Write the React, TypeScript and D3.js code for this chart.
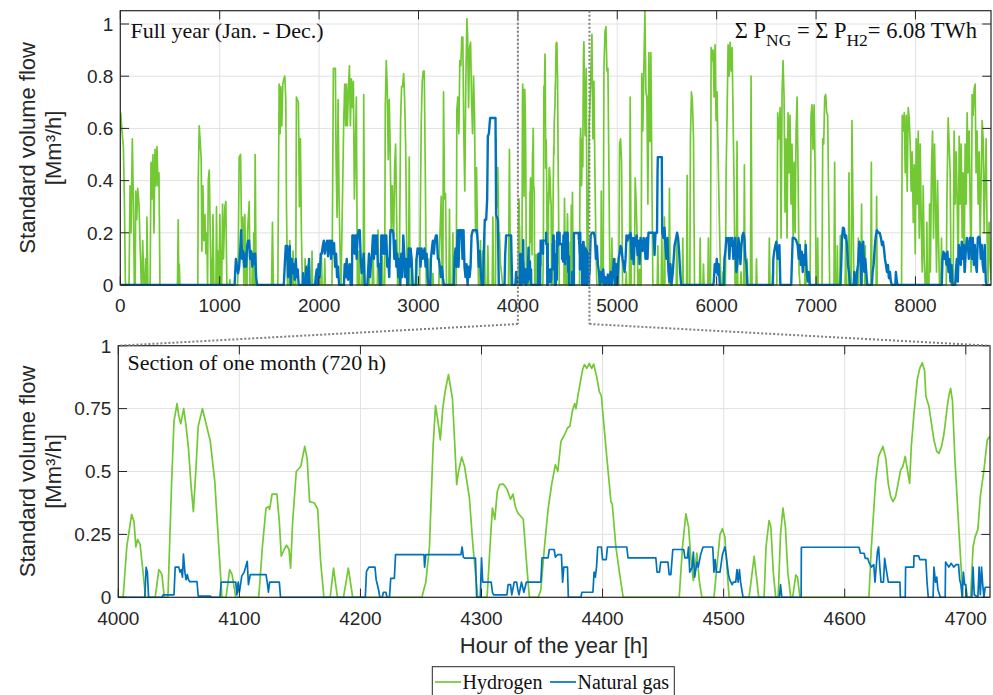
import React from "react";
import * as d3 from "d3";

type P = [number, number];

// ---------- Data (hour of year, standard volume flow in Mm³/h) ----------
const H2_YEAR_A: P[] = [
[0,0.6],[4,0.66],[17,0.59],[31,0.53],[41,0.33],[51,0.01],[60,0],
[88,0],[98,0.38],[108,0.2],[121,0.56],[131,0.33],[141,0],
[150,0],[155,0.36],[165,0.25],[175,0.37],[188,0.31],[198,0.17],[211,0],
[218,0],[225,0.17],[238,0],[250,0],[255,0.1],[262,0],[265,0],[268,0.26],[278,0],
[300,0],[309,0.47],[319,0.33],[329,0.5],[339,0.2],[349,0.52],[359,0.38],[369,0.53],[379,0.38],[389,0.43],[399,0],
[575,0],[583,0.25],[588,0],[593,0.08],[600,0],
[780,0],[784,0.4],[794,0.61],[804,0.55],[814,0.48],[821,0.13],[831,0.38],[841,0.17],[851,0.27],[861,0.12],[871,0.2],[878,0],[885,0.4],[895,0.44],[905,0.2],[912,0],[918,0.1],[925,0],[932,0.27],[942,0],
[962,0],[968,0.3],[975,0],[985,0.13],[992,0],[1002,0.27],[1010,0],[1020,0],[1029,0.31],[1038,0.1],[1052,0.3],[1062,0.32],[1072,0],
[1098,0],[1102,0.02],[1106,0],
[1180,0],[1186,0.1],[1196,0.49],[1210,0.5],[1220,0.2],[1233,0.26],[1243,0],[1253,0.27],[1262,0],[1275,0],[1280,0.2],[1297,0.32],[1305,0],[1325,0],[1330,0.12],[1337,0],[1343,0.2],[1350,0],[1357,0.5],[1367,0],
[1522,0],[1531,0.24],[1540,0],
[1585,0],[1598,0.77],[1608,0.58],[1615,0.76],[1625,0.61],[1635,0.77],[1645,0.79],[1655,0.8],[1665,0.71],[1672,0.3],[1682,0],[1700,0],[1705,0.17],[1712,0],[1733,0],[1738,0.13],[1745,0],
[1765,0],[1772,0.72],[1782,0.71],[1792,0.7],[1802,0.3],[1812,0.56],[1822,0.2],[1832,0],[1855,0],[1859,0.1],[1865,0],[1885,0],[1889,0.08],[1895,0],[1924,0],[1929,0.13],[1935,0],[1985,0],[1990,0.03],[1995,0],[2018,0],[2023,0.12],[2030,0],[2052,0],[2057,0.1],[2062,0],
[2130,0],[2144,0.83],[2154,0.83],[2164,0.83],[2171,0.48],[2181,0.26],[2191,0.71],[2201,0.33],[2211,0.13],[2221,0],[2234,0.3],[2248,0.63],[2258,0.77],[2268,0.61],[2275,0.77],[2285,0.61],[2295,0.75],[2305,0.84],[2315,0.61],[2325,0.79],[2335,0.68],[2345,0.78],[2355,0.33],[2365,0.52],[2375,0.72],[2385,0],[2396,0],[2402,0.13],[2410,0],[2430,0],[2435,0.06],[2440,0],[2444,0],[2449,0.73],[2459,0],
[2497,0],[2502,0.1],[2508,0],[2535,0],[2542,0.18],[2550,0],[2586,0],[2593,0.21],[2600,0],[2630,0],[2636,0.11],[2642,0],
[2660,0],[2666,0.68],[2676,0.86],[2686,0.75],[2696,0.48],[2706,0.71],[2716,0.5],[2726,0.2],[2736,0.38],[2750,0.18],[2760,0.45],[2770,0.54],[2780,0.26],[2790,0],[2805,0],[2810,0.17],[2820,0.63],[2830,0.76],[2840,0.76],[2851,0.81],[2861,0.71],[2871,0.53],[2881,0.17],[2891,0],[2900,0],[2907,0.49],[2914,0],[2932,0],[2937,0.06],[2942,0],[2968,0],[2974,0.1],[2980,0],
[3012,0],[3018,0.26],[3028,0.63],[3038,0.78],[3048,0.82],[3058,0.82],[3068,0.46],[3078,0],[3097,0],[3102,0.1],[3108,0],[3140,0],[3145,0.045],[3150,0],
[3205,0],[3212,0.15],[3229,0.34],[3239,0],[3245,0],[3252,0.74],[3262,0.33],[3272,0.35],[3282,0],[3306,0],[3312,0.29],[3318,0],[3340,0],[3346,0.2],[3352,0],
[3380,0],[3386,0.67],[3396,0.72],[3406,0.58],[3416,0.86],[3426,0.84],[3436,0.95],[3446,0.95],[3456,0.58],[3466,0.36],[3476,0.77],[3487,1.02],[3494,0.96],[3504,0.68],[3514,0.91],[3524,0.93],[3534,0.71],[3544,0.58],[3554,0.8],[3564,0.65],[3574,0.2],[3584,0.45],[3594,0.18],[3604,0],[3618,0],[3624,0.17],[3630,0],[3642,0],[3647,0.13],[3655,0],[3664,0.2],[3670,0],[3692,0],[3698,0.15],[3705,0],[3742,0],[3748,0.26],[3755,0],[3775,0],[3781,0.56],[3790,0.3],[3798,0.45],[3808,0.18],[3815,0.2],[3825,0.08],[3848,0],[3905,0],[3915,0.52],[3925,0]
];

const H2_MONTH: P[] = [
[4000,0],[4004,0],[4007,0.2],[4011,0.33],[4013,0.3],[4014.5,0.2],[4016,0.23],[4018,0.21],[4020,0.12],[4022.5,0],[4030.5,0],[4033.5,0.11],[4035,0.1],[4036,0.09],[4038,0],[4041,0],[4044,0.45],[4046,0.7],[4048.5,0.77],[4050,0.72],[4051.6,0.69],[4054,0.75],[4056,0.68],[4058,0.59],[4060,0.45],[4062,0.34],[4064,0.5],[4066,0.68],[4069.5,0.75],[4072,0.7],[4076,0.62],[4079.7,0.46],[4083,0.2],[4085.6,0],[4089,0],[4092,0.11],[4094,0.09],[4097,0],[4116,0],[4119,0.2],[4122,0.355],[4124,0.36],[4125,0.35],[4127,0.41],[4131,0.41],[4133,0.3],[4134.6,0.163],[4137,0.19],[4139,0.207],[4141,0.19],[4142.3,0.116],[4144,0.3],[4147,0.5],[4150.7,0.52],[4154,0.6],[4156,0.55],[4158,0.38],[4162,0.375],[4164.7,0.35],[4167,0.15],[4169.8,0],[4175,0],[4177.8,0.116],[4181,0],[4186,0],[4190,0.116],[4193.6,0],[4250.7,0],[4254,0.06],[4257,0.2],[4260,0.6],[4262,0.762],[4264,0.7],[4266,0.626],[4268,0.75],[4270,0.82],[4272.7,0.885],[4276,0.79],[4278,0.6],[4279.5,0.448],[4281,0.5],[4283.7,0.557],[4286,0.52],[4290,0.395],[4293,0.2],[4296.9,0],[4304.6,0],[4307,0.2],[4309,0.355],[4311,0.31],[4313,0.42],[4315,0.448],[4318,0.45],[4321,0.43],[4324,0.39],[4326,0.41],[4328,0.36],[4330,0.335],[4334.5,0.31],[4337,0.15],[4339.5,0],[4347,0],[4349,0.03],[4352,0.2],[4355,0.35],[4358,0.45],[4361,0.527],[4363,0.5],[4365.6,0.62],[4368,0.64],[4371,0.673],[4373,0.68],[4375.3,0.746],[4377,0.77],[4378,0.75],[4380,0.812],[4383.5,0.905],[4385,0.925],[4387,0.91],[4389,0.93],[4391,0.91],[4392.6,0.927],[4395,0.88],[4397.3,0.818],[4399,0.8],[4402.8,0.593],[4406.9,0.38],[4408,0.37],[4411,0.2],[4413.8,0.103],[4417,0],[4463.3,0],[4466,0.2],[4468.8,0.332],[4471,0.28],[4473,0.15],[4475,0.066],[4477.9,0.176],[4480,0.06],[4482,0],[4492,0],[4495,0.15],[4497,0.25],[4499,0.273],[4501,0.24],[4503,0.1],[4504.5,0],[4521,0],[4525.2,0.163],[4529,0],[4533.4,0],[4535,0.2],[4537.5,0.305],[4539,0.28],[4541,0.1],[4543,0],[4545,0],[4547,0.25],[4549,0.355],[4551,0.28],[4553,0.1],[4555.4,0],[4557,0],[4559.6,0.089],[4561,0.08],[4563,0],[4620,0],[4622,0.2],[4625.6,0.466],[4628,0.56],[4631.6,0.6],[4634,0.55],[4636,0.45],[4638,0.4],[4639.9,0.38],[4642,0.4],[4644,0.45],[4646.2,0.506],[4648,0.52],[4650,0.56],[4652,0.5],[4653.6,0.453],[4655,0.6],[4657.2,0.73],[4659.9,0.864],[4662,0.91],[4664,0.932],[4666,0.9],[4667,0.8],[4669.6,0.758],[4673.7,0.625],[4676,0.58],[4677.8,0.572],[4680,0.6],[4682,0.65],[4684.7,0.758],[4686,0.8],[4687.5,0.83],[4689,0.78],[4691,0.55],[4694.3,0.268],[4697.6,0],[4704,0],[4706,0.2],[4707.7,0.24],[4710,0.27],[4712,0.4],[4715,0.506],[4717.7,0.625],[4720,0.64]
];

const H2_YEAR_B: P[] = [
[4732,0.77],[4745,0.96],[4755,0.56],[4765,0.78],[4775,0.43],[4785,0.15],[4795,0],[4815,0],[4822,0.03],[4830,0],[4835,0],[4839,0.36],[4845,0],[4858,0],[4866,0.83],[4876,0.97],[4886,0.99],[4896,0.82],[4906,0.83],[4916,0.43],[4926,0],[4940,0],[4946,0.18],[4952,0],[4975,0],[4979,0.1],[4985,0],[5015,0],[5023,0.54],[5033,0.56],[5043,0.47],[5053,0],[5085,0],[5090,0.05],[5095,0],[5122,0],[5130,0.72],[5140,0],[5172,0],[5180,0.41],[5190,0.32],[5200,0.18],[5208,0],[5220,0],[5224,0.06],[5230,0],[5240,0],[5247,0.81],[5257,0.59],[5267,0.82],[5278,1.05],[5288,0.74],[5298,0.72],[5308,0.31],[5318,0.89],[5328,0.55],[5338,0.89],[5348,0.43],[5358,0],[5402,0],[5408,0.15],[5414,0],[5442,0],[5448,0.2],[5454,0],[5470,0],[5475,0.26],[5480,0],[5518,0],[5525,0.37],[5532,0],[5593,0],[5599,0.2],[5605,0],[5653,0],[5659,0.18],[5665,0],[5697,0],[5703,0.42],[5709,0],[5730,0],[5736,0.56],[5746,0.74],[5756,0.7],[5767,0.56],[5777,0],[5828,0],[5834,0.18],[5840,0],[5862,0],[5867,0.08],[5873,0],[5911,0],[5917,0.18],[5923,0],[5938,0],[5944,0.91],[5954,0.86],[5964,0.9],[5974,0.72],[5984,0.92],[5994,0.63],[6004,0.74],[6014,0.5],[6024,0.31],[6034,0.12],[6044,0],[6060,0],[6064,0.05],[6070,0],[6088,0],[6095,0.43],[6105,0.66],[6115,0.92],[6125,0.8],[6135,0.93],[6145,0.82],[6155,0.91],[6165,0.65],[6175,0.38],[6185,0],[6198,0],[6205,0.55],[6212,0],[6240,0],[6245,0.05],[6250,0],[6272,0],[6279,0.46],[6285,0],[6302,0],[6306,0.1],[6312,0],[6340,0],[6346,0.8],[6356,0],[6396,0],[6400,0.1],[6406,0],[6524,0],[6530,0.18],[6536,0],[6560,0],[6565,0.05],[6570,0],[6605,0],
[6608,0.18],[6614,0.66],[6628,0.56],[6638,0.68],[6648,0.18],[6658,0.74],[6668,0.86],[6678,0.72],[6688,0.28],[6698,0.56],[6708,0.18],[6718,0.66],[6728,0.43],[6738,0.65],[6748,0.31],[6758,0.54],[6769,0.18],[6779,0.47],[6789,0.2],[6799,0.59],[6809,0.72],[6819,0.43],[6829,0.05],[6839,0],[6886,0],[6892,0.17],[6898,0],[6940,0],[6949,0.65],[6959,0.69],[6969,0.52],[6980,0.69],[6990,0.46],[7000,0],[7012,0],[7016,0.18],[7022,0],[7060,0],[7067,0.56],[7077,0.54],[7087,0.72],[7097,0.73],[7107,0.66],[7117,0.65],[7127,0.31],[7137,0],[7180,0],[7187,0.47],[7194,0],[7210,0],[7214,0.15],[7220,0],[7238,0],[7244,0.19],[7250,0],[7292,0],[7298,0.18],[7304,0],[7325,0],[7331,0.43],[7338,0],[7354,0],[7361,0.63],[7371,0.31],[7381,0],[7420,0],[7425,0.18],[7430,0],[7452,0],[7458,0.31],[7464,0],[7490,0],[7495,0.15],[7500,0],[7550,0],[7556,0.47],[7562,0],[7604,0],[7609,0.34],[7615,0],[7860,0],[7867,0.65],[7877,0.59],[7887,0.66],[7897,0.43],[7907,0.65],[7917,0.36],[7927,0.68],[7937,0.64],[7947,0.54],[7957,0.36],[7967,0.51],[7978,0.24],[7988,0.46],[7998,0.12],[8008,0.56],[8018,0.31],[8028,0.59],[8038,0.18],[8048,0.54],[8058,0.24],[8068,0.05],[8078,0.38],[8088,0.1],[8098,0],[8110,0],[8115,0.24],[8120,0],[8136,0],[8142,0.31],[8150,0.05],[8162,0.46],[8172,0.59],[8182,0.18],[8192,0.54],[8202,0.31],[8212,0.05],[8222,0.4],[8232,0.18],[8242,0],[8256,0],[8262,0.18],[8268,0],[8310,0],[8316,0.31],[8329,0.64],[8339,0.54],[8349,0.43],[8359,0],[8379,0],[8389,0.59],[8399,0.31],[8410,0.51],[8420,0.31],[8430,0.05],[8440,0.57],[8450,0.31],[8460,0.54],[8470,0.18],[8480,0.43],[8490,0.05],[8500,0.54],[8510,0.31],[8520,0.66],[8530,0.43],[8540,0.59],[8550,0.31],[8560,0.05],[8570,0.73],[8580,0.65],[8590,0.75],[8600,0.77],[8610,0.43],[8620,0.59],[8631,0.31],[8641,0.51],[8651,0.18],[8661,0.4],[8671,0.63],[8681,0.56],[8691,0.2],[8701,0.4],[8711,0.56],[8721,0.18],[8731,0.01],[8741,0.24],[8751,0.1],[8760,0.02]
];

const NG_YEAR_A: P[] = [
[0,0],[1150,0],[1163,0.1],[1175,0.07],[1185,0.045],[1196,0.07],[1206,0.13],[1216,0.21],[1226,0.1],[1236,0.13],[1246,0.07],[1256,0.12],[1266,0.07],[1276,0.15],[1286,0.17],[1296,0.17],[1306,0.1],[1317,0.13],[1327,0.07],[1337,0.12],[1347,0.08],[1357,0.12],[1367,0.03],[1377,0],
[1645,0],[1655,0.08],[1665,0.15],[1678,0.15],[1688,0.03],[1695,0.1],[1705,0.15],[1715,0],[1725,0.1],[1735,0.045],[1745,0.08],[1755,0.02],[1765,0.1],[1775,0.03],[1785,0.06],[1795,0],
[1835,0],[1839,0.045],[1845,0],[1860,0],[1866,0.03],[1872,0.07],[1880,0],[1895,0],[1899,0.1],[1905,0],
[1960,0],[1966,0.03],[1976,0.06],[1986,0],[1995,0.08],[2005,0.03],[2017,0.12],[2027,0.12],[2037,0.15],[2047,0.17],[2057,0.12],[2067,0.15],[2080,0.17],[2090,0.11],[2100,0.17],[2110,0.17],[2120,0.1],[2130,0.17],[2140,0.12],[2151,0.16],[2161,0.07],[2171,0.12],[2181,0.03],[2191,0.07],[2201,0],
[2250,0],[2258,0.08],[2268,0.03],[2278,0.1],[2290,0.02],[2308,0.08],[2318,0],[2330,0],[2335,0.19],[2348,0.19],[2358,0.12],[2368,0.19],[2378,0.1],[2388,0.19],[2399,0.21],[2409,0.21],[2419,0.1],[2428,0.045],[2439,0.07],[2449,0.12],[2459,0],
[2485,0],[2492,0.045],[2502,0.12],[2512,0.03],[2522,0.08],[2532,0.12],[2542,0.19],[2552,0.1],[2562,0.19],[2572,0.12],[2582,0.19],[2592,0.07],[2603,0.08],[2613,0],[2620,0],[2626,0.19],[2636,0.19],[2646,0.12],[2656,0.19],[2666,0.12],[2676,0.19],[2686,0.07],[2696,0.1],[2706,0.03],[2717,0.21],[2727,0.21],[2737,0.21],[2747,0.2],[2757,0.1],[2767,0.17],[2777,0.07],[2787,0.12],[2797,0.03],[2807,0.1],[2817,0],[2827,0.12],[2837,0.03],[2847,0.19],[2857,0.12],[2867,0.03],[2877,0.1],[2887,0],[2895,0],[2901,0.14],[2911,0.07],[2921,0.14],[2931,0.1],[2941,0],
[2975,0],[2981,0.1],[2991,0.14],[3001,0.12],[3011,0.14],[3021,0.07],[3031,0.14],[3041,0.1],[3051,0.12],[3061,0.14],[3071,0.07],[3082,0.12],[3092,0.03],[3102,0],
[3120,0],[3125,0.1],[3135,0.14],[3145,0.17],[3155,0.12],[3165,0.17],[3175,0.19],[3185,0.19],[3195,0.1],[3205,0.1],[3215,0.07],[3225,0.03],[3235,0.07],[3245,0.03],[3256,0],
[3356,0],[3363,0.1],[3373,0.14],[3383,0.07],[3393,0.21],[3403,0.07],[3413,0.21],[3423,0.21],[3433,0.21],[3443,0.1],[3453,0.21],[3463,0.07],[3473,0.03],[3483,0.08],[3494,0],[3504,0.07],[3514,0.03],[3524,0.07],[3534,0.19],[3547,0.21],[3567,0.21],[3587,0.21],[3597,0.16],[3607,0.07],[3617,0.13],[3627,0.045],[3637,0],[3650,0],[3657,0.12],[3667,0.25],[3681,0.25],[3691,0.33],[3698,0.57],[3708,0.58],[3721,0.64],[3775,0.64],[3781,0.27],[3798,0.25],[3808,0],
[3866,0],[3872,0.115],[3882,0.19],[3932,0.19],[3942,0],[3975,0],[3982,0.05],[3990,0.01]
];

const NG_MONTH: P[] = [
[4000,0],[4021.9,0],[4023,0.119],[4024,0.1],[4025,0],[4036,0],[4037,0.01],[4046,0.01],[4047,0.12],[4050,0.12],[4051,0.1],[4052,0.11],[4053,0.08],[4053.8,0.172],[4055,0.1],[4056,0.07],[4057,0.09],[4058,0.07],[4059,0.062],[4065,0.062],[4066,0.005],[4076,0.005],[4077,0],[4084,0],[4085,0.06],[4097,0.06],[4098,0.01],[4099,0.06],[4100,0.02],[4102,0.085],[4104,0.1],[4106.5,0.143],[4107.5,0.05],[4109,0.09],[4122,0.09],[4123,0.06],[4124,0.02],[4125,0.06],[4133,0.06],[4134,0],[4204,0],[4205,0.103],[4207,0.12],[4212,0.12],[4213,0.07],[4215,0.03],[4216,0],[4218,0],[4219,0.02],[4221,0.02],[4222,0],[4224,0],[4225,0.075],[4228,0.075],[4229,0.17],[4252.5,0.17],[4253,0.12],[4254,0.17],[4283,0.17],[4284,0.2],[4285,0.16],[4286,0.156],[4295,0.156],[4296,0],[4299,0],[4300,0.157],[4301,0.06],[4308,0.06],[4309,0.02],[4310,0.01],[4321,0.01],[4322,0.05],[4324,0.05],[4325,0.01],[4327,0.06],[4329,0.06],[4330,0.03],[4331,0.01],[4333,0.06],[4335,0.02],[4337,0.06],[4349,0.06],[4350,0.157],[4355,0.157],[4356,0.19],[4360,0.19],[4361,0.16],[4363,0.17],[4366,0.17],[4367,0.06],[4368,0.12],[4371,0.12],[4371.7,0],[4382,0],[4383,0.02],[4392,0.02],[4393,0.1],[4394,0.08],[4395,0.12],[4396,0.2],[4399,0.2],[4400,0.15],[4403,0.15],[4404,0.2],[4420,0.2],[4421,0.157],[4444,0.157],[4445,0.1],[4447,0.1],[4448,0.14],[4454,0.14],[4455,0.09],[4456.4,0.09],[4458,0.19],[4467,0.19],[4468,0.157],[4470,0.157],[4471,0.2],[4472,0.1],[4474,0.12],[4475,0.18],[4476,0.08],[4478,0.14],[4479,0.12],[4481,0.17],[4483,0.2],[4491,0.2],[4492,0.1],[4493,0.15],[4494,0.1],[4497,0.1],[4499,0.17],[4501,0.2],[4502,0.17],[4504,0.09],[4505,0.07],[4507,0.05],[4508,0.06],[4510,0.06],[4511,0.11],[4512,0.06],[4513,0.11],[4514,0.06],[4516,0],[4546,0],[4547,0.05],[4548,0],[4564,0],[4564.2,0.199],[4611.8,0.199],[4613,0.175],[4616,0.175],[4617,0.155],[4619,0.155],[4620,0.14],[4622,0.12],[4624,0.13],[4625,0.06],[4627,0.18],[4628,0.2],[4629,0.12],[4630,0.06],[4632,0.06],[4633,0.155],[4634,0.12],[4636,0.06],[4645.6,0.06],[4646,0],[4650,0],[4650.3,0.12],[4657,0.12],[4657.2,0.165],[4661,0.165],[4662,0.15],[4667,0.15],[4668,0.06],[4669,0],[4673,0],[4673.7,0.12],[4675,0.06],[4676,0.08],[4677,0.03],[4679,0],[4683,0],[4683.3,0.14],[4686,0.12],[4688,0.135],[4690,0.12],[4692,0.13],[4694,0.13],[4695,0.07],[4696,0.05],[4697,0],[4698,0.1],[4699,0.05],[4700,0.05],[4701,0],[4705,0],[4706,0.12],[4707,0.01],[4710,0],[4711,0.12],[4712,0.01],[4713,0.12],[4714,0.05],[4715,0],[4716,0.04],[4720,0.04]
];

const NG_YEAR_B: P[] = [
[4722,0.05],[4732,0.19],[4745,0.2],[4765,0.2],[4775,0.18],[4785,0.1],[4795,0.15],[4805,0.08],[4815,0.05],[4825,0],[4839,0.05],[4849,0.01],[4859,0.06],[4869,0],[4879,0.03],[4889,0],[4906,0.04],[4916,0],[4933,0.05],[4943,0],[4956,0.05],[4966,0.1],[4976,0],[4990,0.08],[5000,0],[5013,0.1],[5023,0.12],[5033,0.15],[5043,0.14],[5053,0.1],[5063,0.08],[5073,0.05],[5083,0.1],[5093,0.19],[5103,0.17],[5113,0.19],[5123,0.18],[5134,0.2],[5144,0.1],[5154,0.18],[5164,0.08],[5174,0.18],[5184,0.15],[5194,0.19],[5204,0.115],[5214,0.17],[5224,0.08],[5234,0.18],[5244,0.15],[5254,0.13],[5264,0.18],[5274,0.17],[5284,0.1],[5294,0.18],[5304,0.1],[5314,0.2],[5341,0.2],[5365,0.2],[5375,0.115],[5385,0.2],[5400,0.2],[5405,0.43],[5408,0.49],[5448,0.49],[5452,0.2],[5465,0.18],[5475,0.22],[5485,0.15],[5495,0.1],[5505,0.18],[5515,0.05],[5525,0.013],[5535,0.08],[5545,0],[5559,0.05],[5576,0.15],[5592,0.18],[5602,0.2],[5612,0.18],[5622,0.13],[5632,0.05],[5643,0],
[5965,0],[5971,0.013],[5981,0.08],[5991,0.05],[6001,0.1],[6011,0.04],[6021,0.08],[6031,0],[6072,0],[6078,0.1],[6088,0.13],[6098,0.18],[6108,0.17],[6118,0.18],[6128,0.1],[6138,0.18],[6148,0.15],[6158,0.18],[6168,0.1],[6178,0.15],[6188,0.18],[6198,0.05],[6208,0.08],[6219,0.18],[6229,0.15],[6239,0.08],[6249,0.15],[6259,0.19],[6269,0.2],[6279,0.18],[6289,0.1],[6299,0.08],[6309,0],
[6565,0],[6570,0.1],[6580,0.13],[6590,0.15],[6600,0.166],[6614,0.1],[6631,0.153],[6641,0],
[6750,0],[6755,0.064],[6765,0.18],[6782,0.18],[6799,0.172],[6815,0.153],[6826,0.1],[6836,0.153],[6846,0.077],[6856,0.128],[6866,0.05],[6876,0.115],[6886,0.077],[6896,0.153],[6906,0.05],[6916,0.013],[6926,0.05],[6936,0],
[7245,0],[7251,0.05],[7261,0.18],[7271,0.22],[7281,0.217],[7291,0.18],[7301,0.19],[7311,0.153],[7321,0.077],[7331,0.05],[7341,0],[7375,0],[7380,0.013],[7385,0.05],[7395,0],[7405,0],[7412,0.05],[7422,0.077],[7435,0.166],[7445,0.153],[7455,0],[7465,0.153],[7475,0.166],[7485,0.05],[7495,0.1],[7505,0.05],[7515,0],
[7562,0],[7569,0.05],[7579,0.077],[7592,0.153],[7602,0.19],[7612,0.21],[7626,0.2],[7640,0.2],[7653,0.18],[7663,0.153],[7673,0.166],[7683,0.14],[7693,0.1],[7703,0.077],[7713,0.05],[7723,0.077],[7733,0.026],[7743,0.05],[7753,0.013],[7763,0],[7798,0],[7803,0.05],[7813,0.013],[7820,0],
[8265,0],[8272,0.1],[8282,0.128],[8292,0.1],[8302,0.12],[8312,0.077],[8322,0.128],[8332,0.05],[8342,0.1],[8352,0.013],[8363,0.077],[8373,0],[8400,0],[8406,0.05],[8416,0.1],[8426,0.013],[8436,0.153],[8446,0.128],[8456,0.077],[8466,0.166],[8476,0.1],[8486,0.153],[8496,0.05],[8506,0.128],[8517,0.18],[8527,0.153],[8537,0.1],[8547,0.18],[8557,0.18],[8567,0.1],[8577,0.18],[8587,0.077],[8597,0.153],[8607,0.077],[8617,0.05],[8627,0.18],[8637,0.185],[8647,0.18],[8657,0.1],[8667,0.153],[8677,0.077],[8687,0.05],[8697,0.153],[8708,0.013],[8718,0],[8760,0]
];

const YEAR_X_TICKS = [0, 1000, 2000, 3000, 4000, 5000, 6000, 7000, 8000];
const YEAR_Y_TICKS = [0, 0.2, 0.4, 0.6, 0.8, 1];
const MONTH_X_TICKS = [4000, 4100, 4200, 4300, 4400, 4500, 4600, 4700];
const MONTH_Y_TICKS = [0, 0.25, 0.5, 0.75, 1];
const SECTION = [4000, 4720];
const SERIES_NAMES = ["Hydrogen", "Natural gas"];

const GREEN = "#72C934";
const BLUE = "#0072BD";
const AXIS = "#262626";
const GRID = "#e1e1e1";
const SANS = "'Liberation Sans', Arial, Helvetica, sans-serif";
const SERIF = "'Liberation Serif', 'Times New Roman', serif";

type PanelProps = {
  id: string;
  left: number; right: number; top: number; bottom: number;
  xDomain: number[]; yDomain: number[];
  xTicks: number[]; yTicks: number[];
  h2: P[]; ng: P[];
  greenW: number; blueW: number;
  xTickBase: number;
};

function Panel(p: PanelProps) {
  const x = d3.scaleLinear().domain(p.xDomain).range([p.left, p.right]);
  const y = d3.scaleLinear().domain(p.yDomain).range([p.bottom, p.top]);
  const line = d3.line<P>().x(d => x(d[0])).y(d => y(d[1]));
  const tl = 8.7;
  return (
    <g>
      <defs>
        <clipPath id={p.id}>
          <rect x={p.left} y={p.top - 2} width={p.right - p.left} height={p.bottom - p.top + 3} />
        </clipPath>
      </defs>
      <rect x={p.left} y={p.top} width={p.right - p.left} height={p.bottom - p.top} fill="#fff" />
      {p.xTicks.map(t => (
        <line key={"gx" + t} x1={x(t)} x2={x(t)} y1={p.top} y2={p.bottom} stroke={GRID} strokeWidth={1} />
      ))}
      {p.yTicks.map(t => (
        <line key={"gy" + t} x1={p.left} x2={p.right} y1={y(t)} y2={y(t)} stroke={GRID} strokeWidth={1} />
      ))}
      <g clipPath={`url(#${p.id})`}>
        <path d={line(p.h2) || ""} fill="none" stroke={GREEN} strokeWidth={p.greenW} strokeLinejoin="round" />
        <path d={line(p.ng) || ""} fill="none" stroke={BLUE} strokeWidth={p.blueW} strokeLinejoin="round" />
      </g>
      {p.xTicks.map(t => (
        <g key={"tx" + t}>
          <line x1={x(t)} x2={x(t)} y1={p.bottom} y2={p.bottom - tl} stroke={AXIS} strokeWidth={1} />
          <line x1={x(t)} x2={x(t)} y1={p.top} y2={p.top + tl} stroke={AXIS} strokeWidth={1} />
          <text x={x(t)} y={p.xTickBase} textAnchor="middle" fontFamily={SANS} fontSize={19} fill={AXIS}>{String(t)}</text>
        </g>
      ))}
      {p.yTicks.map(t => (
        <g key={"ty" + t}>
          <line x1={p.left} x2={p.left + tl} y1={y(t)} y2={y(t)} stroke={AXIS} strokeWidth={1} />
          <line x1={p.right} x2={p.right - tl} y1={y(t)} y2={y(t)} stroke={AXIS} strokeWidth={1} />
          <text x={p.left - 7} y={y(t) + 6.8} textAnchor="end" fontFamily={SANS} fontSize={19} fill={AXIS}>{String(t)}</text>
        </g>
      ))}
      <rect x={p.left} y={p.top} width={p.right - p.left} height={p.bottom - p.top} fill="none" stroke={AXIS} strokeWidth={1.2} />
    </g>
  );
}

function YLabel({ cy }: { cy: number }) {
  return (
    <g fontFamily={SANS} fontSize={22} fill={AXIS} textAnchor="middle">
      <text transform={`translate(34.5,${cy}) rotate(-90)`}>Standard volume flow</text>
      <text transform={`translate(61,${cy}) rotate(-90)`}>[Mm³/h]</text>
    </g>
  );
}

export default function App() {
  const H2_TOP = [...H2_YEAR_A, ...H2_MONTH, ...H2_YEAR_B];
  const NG_TOP = [...NG_YEAR_A, ...NG_MONTH, ...NG_YEAR_B];

  const top = { left: 120.3, right: 991, top: 10.7, bottom: 285 };
  const bot = { left: 118.3, right: 990, top: 345.7, bottom: 597.3 };
  const xTop = d3.scaleLinear().domain([0, 8760]).range([top.left, top.right]);
  const xa = xTop(SECTION[0]);
  const xb = xTop(SECTION[1]);
  const joinY = 324;

  return (
    <svg width={993} height={695} style={{ position: "absolute", left: 0, top: 0, background: "#fff" }}>
      <rect x={0} y={0} width={993} height={695} fill="#fff" />
      <Panel id="clipTop" {...top} xDomain={[0, 8760]} yDomain={[0, 1.051]}
        xTicks={YEAR_X_TICKS} yTicks={YEAR_Y_TICKS} h2={H2_TOP} ng={NG_TOP}
        greenW={1.7} blueW={2.4} xTickBase={311.5} />
      <Panel id="clipBot" {...bot} xDomain={[4000, 4720]} yDomain={[0, 1]}
        xTicks={MONTH_X_TICKS} yTicks={MONTH_Y_TICKS} h2={H2_MONTH} ng={NG_MONTH}
        greenW={1.7} blueW={1.7} xTickBase={625} />

      {/* section markers */}
      <g stroke="#7f7f7f" strokeWidth={2} strokeDasharray="2,2" fill="none">
        <line x1={xa} x2={xa} y1={top.top} y2={joinY} />
        <line x1={xb} x2={xb} y1={top.top} y2={joinY} />
        <line x1={xa} y1={joinY} x2={bot.left} y2={bot.top} />
        <line x1={xb} y1={joinY} x2={bot.right} y2={bot.top} />
      </g>

      <YLabel cy={(top.top + top.bottom) / 2} />
      <YLabel cy={(bot.top + bot.bottom) / 2} />

      <text x={130.5} y={37.5} fontFamily={SERIF} fontSize={22} fill="#111">Full year (Jan. - Dec.)</text>
      <text x={977} y={37.5} textAnchor="end" fontFamily={SERIF} fontSize={22.5} fill="#111">
        <tspan>Σ P</tspan>
        <tspan dy={8} fontSize={17.5}>NG</tspan>
        <tspan dy={-8}> = Σ P</tspan>
        <tspan dy={8} fontSize={17.5}>H2</tspan>
        <tspan dy={-8}>= 6.08 TWh</tspan>
      </text>
      <text x={127.5} y={369.5} fontFamily={SERIF} fontSize={22} fill="#111">Section of one month (720 h)</text>

      <text x={554} y={652.5} textAnchor="middle" fontFamily={SANS} fontSize={22} fill={AXIS}>Hour of the year [h]</text>

      {/* legend */}
      <g>
        <rect x={432.3} y={666.7} width={242} height={34} fill="#fff" stroke={AXIS} strokeWidth={1} />
        <line x1={435} x2={461} y1={682} y2={682} stroke={GREEN} strokeWidth={1.7} />
        <text x={462.5} y={688.5} fontFamily={SERIF} fontSize={20} fill="#111">{SERIES_NAMES[0]}</text>
        <line x1={550} x2={576} y1={682} y2={682} stroke={BLUE} strokeWidth={1.7} />
        <text x={577.5} y={688.5} fontFamily={SERIF} fontSize={20} fill="#111">{SERIES_NAMES[1]}</text>
      </g>
    </svg>
  );
}
